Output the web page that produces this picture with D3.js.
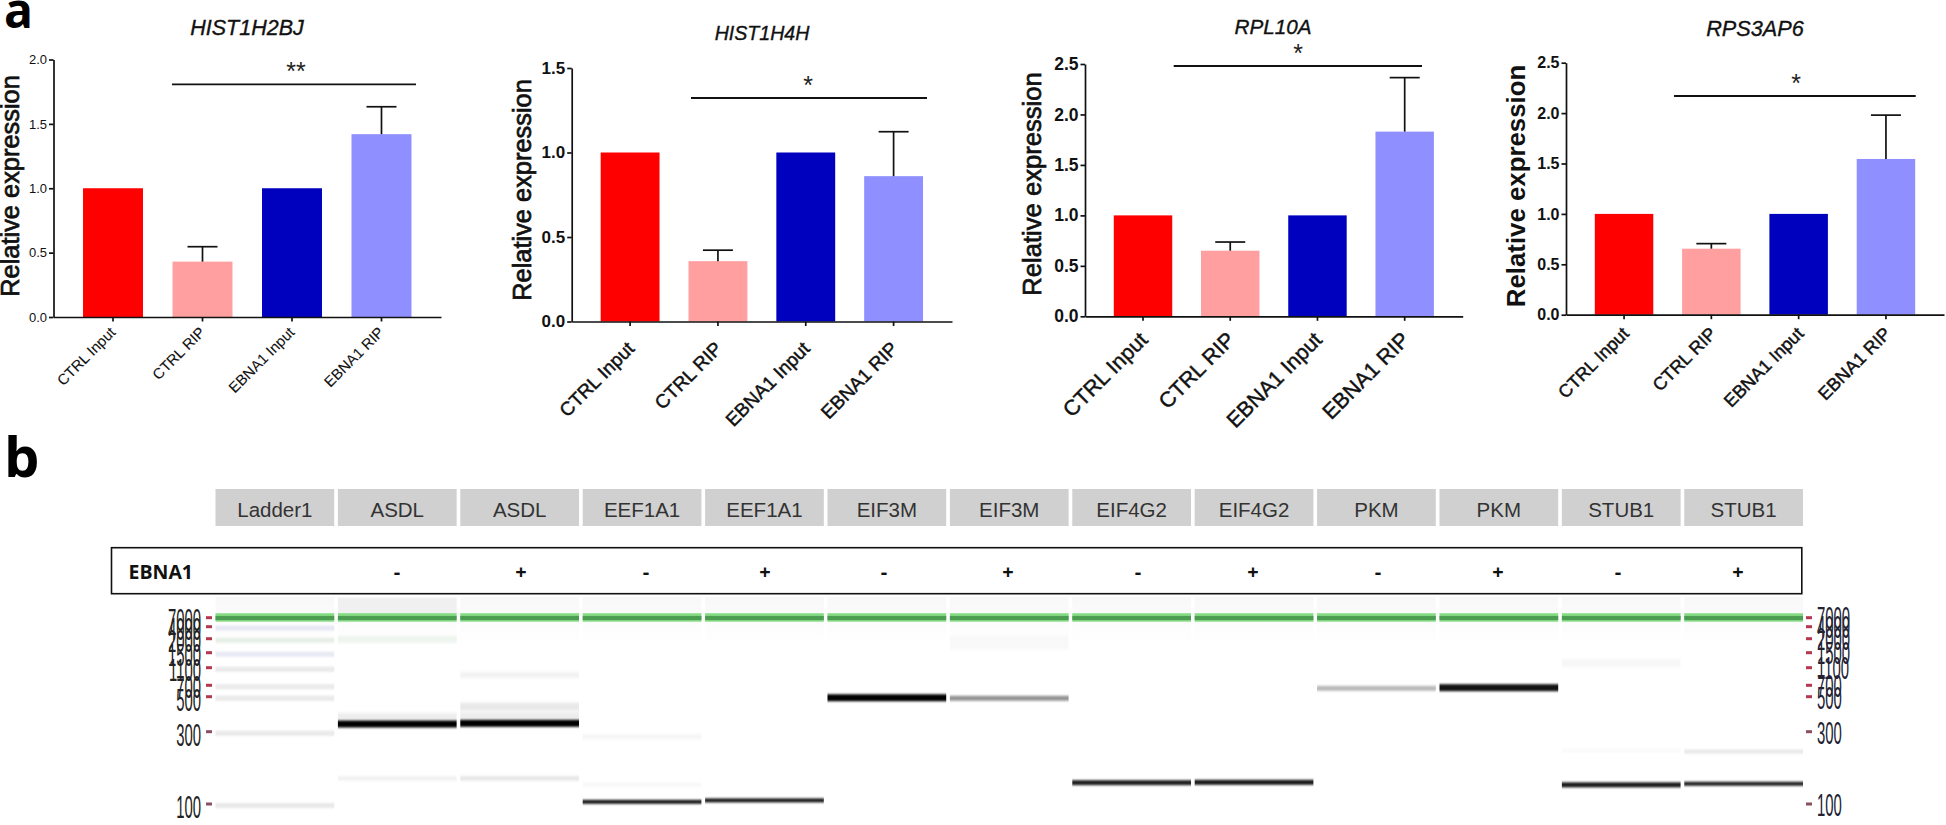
<!DOCTYPE html>
<html><head><meta charset="utf-8">
<script src="https://cdn.jsdelivr.net/npm/d3@7/dist/d3.min.js"></script>
<style>html,body{margin:0;padding:0;background:#fff}svg{display:block}text{font-family:"Liberation Sans",Arial,sans-serif}</style>
</head><body><svg id="c" width="1946" height="825"></svg>
<script>
// ---------- data ----------
const categories = ["CTRL Input","CTRL RIP","EBNA1 Input","EBNA1 RIP"];
const genes = ["HIST1H2BJ","HIST1H4H","RPL10A","RPS3AP6"];
const hist1h2bjMean = [1,0.43,1,1.42];
const hist1h2bjUpper = [null,0.546,null,1.633];
const hist1h4hMean = [1,0.357,1,0.86];
const hist1h4hUpper = [null,0.422,null,1.123];
const rpl10aMean = [1,0.65,1,1.83];
const rpl10aUpper = [null,0.736,null,2.365];
const rps3ap6Mean = [1,0.655,1,1.545];
const rps3ap6Upper = [null,0.705,null,1.98];
const yMaxima = [2,1.5,2.5,2.5];
const yTicks = [[0,0.5,1,1.5,2],[0,0.5,1,1.5],[0,0.5,1,1.5,2,2.5],[0,0.5,1,1.5,2,2.5]];
const significance = ["**","*","*","*"];
const laneNames = ["Ladder1","ASDL","ASDL","EEF1A1","EEF1A1","EIF3M","EIF3M","EIF4G2","EIF4G2","PKM","PKM","STUB1","STUB1"];
const ebna1Signs = ["-","+","-","+","-","+","-","+","-","+","-","+"];
const ladderSizes = [7000,4000,2000,1500,1100,700,500,300,100];
// sample bands: lane, estimated size (bp), darkness, thickness
const bandLane = [1,1,2,2,2,2,3,3,3,4,5,6,6,7,8,9,10,11,11,11,12,12];
const bandSize = [344,171,348,171,934,443,106,286,153,110,494,491,1846,159,160,647,658,153,247,1225,156,245];
const bandDark = [1,.08,1,.11,.05,.09,.9,.04,.04,.9,1,.42,.025,.88,.9,.27,.93,.9,.04,.03,.88,.12];
const bandThick = [7,3,7,4,6,8,4,5,3,4,7,5,14,5,5,5,7,5,2,8,4,3];
// ---------- layout ----------
const colors = ["#ff0000","#ff9f9f","#0000bf","#8f8fff"];
const panelLayout = [
 {x0:53.5,x1:441,y0:317,y1:59.5,tick:13,tw:false,xf:14.8,xdx:0,xdy:13,titleX:247,titleY:35,titleF:21.5,yTitleX:10,yTitleF:25.4,yBold:false,sx:[172,416],sy:84.3,starX:296,starY:80,ytc:186},
 {x0:571.7,x1:952,y0:321.5,y1:68,tick:17,tw:true,xf:19,xdx:1,xdy:24,titleX:762,titleY:39.5,titleF:19.6,yTitleX:522,yTitleF:25.4,yBold:false,sx:[691,927],sy:98,starX:808,starY:94,ytc:190},
 {x0:1085,x1:1462.7,y0:316.3,y1:64,tick:17.5,tw:true,xf:21.5,xdx:1,xdy:20,titleX:1273,titleY:34,titleF:20.7,yTitleX:1032,yTitleF:25.6,yBold:false,sx:[1173.7,1422],sy:66,starX:1298,starY:62,ytc:184},
 {x0:1566,x1:1944,y0:314.7,y1:62.7,tick:16,tw:true,xf:18,xdx:2,xdy:16,titleX:1755,titleY:35.7,titleF:21.7,yTitleX:1516,yTitleF:25.8,yBold:true,sx:[1674,1915.7],sy:96,starX:1796,starY:92,ytc:186}
];
const signCenters = [397,521,646,765,884,1008,1138,1253,1378,1498,1618,1738];
const means=[hist1h2bjMean,hist1h4hMean,rpl10aMean,rps3ap6Mean];
const uppers=[hist1h2bjUpper,hist1h4hUpper,rpl10aUpper,rps3ap6Upper];
const svg=d3.select("#c");

svg.append("text").attr("x",4).attr("y",28).attr("font-size",48).attr("font-weight",700).style("font-family","'Open Sans'").text("a");
svg.append("text").attr("x",4).attr("y",477).attr("font-size",56).attr("font-weight",700).style("font-family","'Open Sans'").text("b");

panelLayout.forEach((p,i)=>{
  const g=svg.append("g");
  const x=d3.scaleBand().domain(categories).range([p.x0,p.x1]).paddingInner(.33).paddingOuter(.33);
  const y=d3.scaleLinear().domain([0,yMaxima[i]]).range([p.y0,p.y1]);
  const rows=categories.map((c,k)=>({c,v:means[i][k],u:uppers[i][k],col:colors[k]}));
  g.selectAll("rect.bar").data(rows).join("rect").attr("class","bar")
    .attr("x",d=>x(d.c)).attr("width",x.bandwidth()).attr("y",d=>y(d.v)).attr("height",d=>y(0)-y(d.v)).attr("fill",d=>d.col);
  const errs=rows.filter(d=>d.u!==null);
  g.selectAll("line.stem").data(errs).join("line").attr("x1",d=>x(d.c)+x.bandwidth()/2).attr("x2",d=>x(d.c)+x.bandwidth()/2)
    .attr("y1",d=>y(d.v)).attr("y2",d=>y(d.u)).attr("stroke","#111").attr("stroke-width",1.7);
  g.selectAll("line.cap").data(errs).join("line").attr("x1",d=>x(d.c)+x.bandwidth()/2-15).attr("x2",d=>x(d.c)+x.bandwidth()/2+15)
    .attr("y1",d=>y(d.u)).attr("y2",d=>y(d.u)).attr("stroke","#111").attr("stroke-width",1.7);
  const ya=g.append("g").attr("transform",`translate(${p.x0},0)`).call(d3.axisLeft(y).tickValues(yTicks[i]).tickSize(4.5).tickSizeOuter(0).tickPadding(2).tickFormat(d3.format(".1f")));
  ya.selectAll("path,line").attr("stroke","#111").attr("stroke-width",1.7);
  ya.selectAll("text").attr("font-size",p.tick).attr("fill","#111").attr("font-weight",p.tw?700:400).style("font-family","'Liberation Sans'");
  const xa=g.append("g").attr("transform",`translate(0,${p.y0})`).call(d3.axisBottom(x).tickSize(4.5).tickSizeOuter(0));
  xa.selectAll("path,line").attr("stroke","#111").attr("stroke-width",1.7);
  xa.selectAll("text").attr("font-size",p.xf).attr("fill","#111").attr("text-anchor","end").style("font-family","'Liberation Sans'")
    .attr("stroke","#111").attr("stroke-width",i?0.45:0.1)
    .attr("transform",`translate(${p.xdx},${p.xdy}) rotate(-45)`).attr("dy",".32em").attr("y",0).attr("x",0);
  g.append("text").attr("x",p.titleX).attr("y",p.titleY).attr("text-anchor","middle").attr("font-size",p.titleF).attr("font-style","italic")
    .attr("fill","#111").attr("stroke","#111").attr("stroke-width",.35).text(genes[i]);
  g.append("text").attr("transform",`translate(${p.yTitleX},${p.ytc}) rotate(-90)`).attr("text-anchor","middle").attr("dy",".35em")
    .attr("font-size",p.yTitleF).attr("font-weight",p.yBold?700:400).attr("fill","#111").attr("stroke","#111").attr("stroke-width",p.yBold?0:.7).text("Relative expression");
  g.append("line").attr("x1",p.sx[0]).attr("x2",p.sx[1]).attr("y1",p.sy).attr("y2",p.sy).attr("stroke","#111").attr("stroke-width",1.8);
  g.append("text").attr("x",p.starX).attr("y",p.starY).attr("text-anchor","middle").attr("font-size",25).attr("fill","#222").text(significance[i]);
});

// ---------- panel b ----------
const laneX=d3.scaleBand().domain(d3.range(laneNames.length)).range([215.5,1803]).paddingInner(.03).paddingOuter(0);
const gel=svg.append("g");
const defs=svg.append("defs");
defs.append("filter").attr("id","soft").attr("x","-2%").attr("width","104%").attr("y","-200%").attr("height","500%")
  .append("feGaussianBlur").attr("stdDeviation","0 0.8");
defs.append("filter").attr("id","softer").attr("x","-2%").attr("width","104%").attr("y","-200%").attr("height","500%")
  .append("feGaussianBlur").attr("stdDeviation","0 1.8");
const hz=defs.append("linearGradient").attr("id","haze").attr("x1",0).attr("x2",0).attr("y1",0).attr("y2",1);
hz.append("stop").attr("offset",0).attr("stop-color","#f6f6f6").attr("stop-opacity",.8);
hz.append("stop").attr("offset",1).attr("stop-color","#f8f8fc").attr("stop-opacity",0);

gel.selectAll("rect.tab").data(laneNames).join("rect").attr("class","tab").attr("x",(d,i)=>laneX(i)).attr("width",laneX.bandwidth()).attr("y",489).attr("height",37).attr("fill","#d0d0d0");
gel.selectAll("text.tab").data(laneNames).join("text").attr("class","tab").attr("x",(d,i)=>laneX(i)+laneX.bandwidth()/2).attr("y",509.5).attr("dy",".36em")
  .attr("text-anchor","middle").attr("font-size",20.5).attr("fill","#333").text(d=>d);
gel.append("rect").attr("x",111.5).attr("y",547.7).attr("width",1690.3).attr("height",46).attr("fill","#fff").attr("stroke","#111").attr("stroke-width",1.6);
gel.append("text").attr("x",128.5).attr("y",571.5).attr("dy",".36em").attr("font-size",19.5).attr("font-weight",700).attr("fill","#111").style("font-family","'Open Sans'").text("EBNA1");
gel.selectAll("text.sign").data(ebna1Signs).join("text").attr("class","sign").attr("x",(d,i)=>signCenters[i]).attr("y",571.5).attr("dy",".36em")
  .attr("text-anchor","middle").attr("font-size",20).attr("font-weight",700).attr("fill","#111").style("font-family","'Open Sans'").text(d=>d);

// migration scale: size (bp) to gel position, piecewise through the ladder marks
const sizeY=d3.scaleLinear().domain(ladderSizes).range([617.7,626.7,638.7,652.7,667.7,685.3,696.7,731.7,804]);
const laneIdx=d3.range(laneNames.length);
gel.selectAll("rect.haze").data(laneIdx).join("rect").attr("class","haze").attr("x",i=>laneX(i)).attr("width",laneX.bandwidth()).attr("y",597).attr("height",50).attr("fill","url(#haze)");
// darker background above the marker in the first ASDL lane, with its pale green smear
gel.append("rect").attr("x",laneX(1)).attr("width",laneX.bandwidth()).attr("y",598).attr("height",18).attr("fill","#f0f0f0");
gel.append("rect").attr("x",laneX(1)).attr("width",laneX.bandwidth()).attr("y",sizeY(2000)-3).attr("height",7).attr("fill","#eef4ee").attr("filter","url(#softer)");
const ladderTint=["#fff","#e7e7f5","#e6efe6","#e8e8f4","#e9e9e9","#eaeaea","#e9e9e9","#e9e9e9","#e8e8e8"];
gel.selectAll("rect.lad").data(ladderSizes.slice(1)).join("rect").attr("class","lad").attr("x",laneX(0)).attr("width",laneX.bandwidth()).attr("y",d=>sizeY(d)-1).attr("height",5)
  .attr("fill",(d,i)=>ladderTint[i+1]).attr("filter","url(#soft)");
const bands=bandLane.map((l,k)=>({l,s:bandSize[k],d:bandDark[k],t:bandThick[k]}));
gel.selectAll("rect.band").data(bands).join("rect").attr("class","band").attr("x",d=>laneX(d.l)).attr("width",laneX.bandwidth())
  .attr("y",d=>sizeY(d.s)-d.t/2).attr("height",d=>d.t).attr("fill","#000").attr("fill-opacity",d=>d.d).attr("filter",d=>d.d<.2?"url(#softer)":"url(#soft)");
gel.selectAll("rect.smear").data(bands.filter(d=>d.d===1&&d.l<3)).join("rect").attr("class","smear").attr("x",d=>laneX(d.l)).attr("width",laneX.bandwidth())
  .attr("y",d=>sizeY(d.s)-11).attr("height",7).attr("fill","#000").attr("fill-opacity",.07).attr("filter","url(#softer)");
gel.selectAll("rect.gOuter").data(laneIdx).join("rect").attr("class","gOuter").attr("x",i=>laneX(i)).attr("width",laneX.bandwidth()).attr("y",sizeY(7000)-4.5).attr("height",8.5).attr("fill","#86dc84");
gel.selectAll("rect.gInner").data(laneIdx).join("rect").attr("class","gInner").attr("x",i=>laneX(i)).attr("width",laneX.bandwidth()).attr("y",sizeY(7000)-1.8).attr("height",4.2).attr("fill","#4c9c52");
[{tx:206,lx:201,a:"end",off:2,col:"#222"},{tx:1806,lx:1817,a:"start",off:0.5,col:"#223"}].forEach(s=>{
  gel.selectAll(null).data(ladderSizes).join("rect").attr("x",s.tx).attr("width",6).attr("y",d=>sizeY(d)-1.5).attr("height",3).attr("fill",(d,i)=>i<7?"#b5374f":"#8a5060");
  gel.selectAll(null).data(ladderSizes).join("text").attr("text-anchor",s.a).attr("font-size",31).attr("fill",s.col)
    .attr("transform",d=>`translate(${s.lx},${sizeY(d)+s.off+(d<=500?1:0)}) scale(.48,1)`).attr("dy",".35em").text(d=>d);
});
</script></body></html>
